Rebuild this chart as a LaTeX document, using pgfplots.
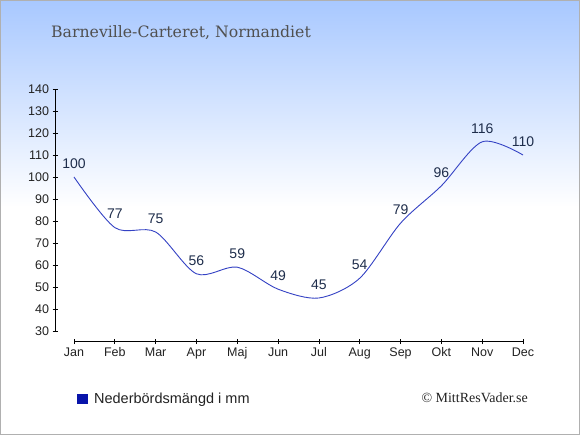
\documentclass[border=0pt]{standalone}
\usepackage{fontspec}
\setmainfont{Liberation Sans}
\newfontfamily\titlefont{DejaVu Serif}
\newfontfamily\copyfont{Liberation Serif}
\usepackage{pgfplots}
\pgfplotsset{compat=1.18}
\definecolor{topblue}{RGB}{168,200,255}
\definecolor{linecol}{RGB}{52,66,196}
\definecolor{labelcol}{RGB}{30,45,75}
\definecolor{legendblue}{RGB}{8,20,170}
\definecolor{textcol}{RGB}{34,34,34}
\definecolor{titlecol}{RGB}{80,80,80}
\definecolor{bordercol}{RGB}{176,176,176}
\begin{document}
\begin{tikzpicture}[x=1pt,y=1pt]
\path[use as bounding box] (0,0) rectangle (580,435);
\fill[white] (0,0) rectangle (580,435);
\shade[top color=topblue, bottom color=white] (0,228) rectangle (580,435);
\draw[bordercol, line width=1pt] (0.5,0.5) rectangle (579.5,434.5);
\node[anchor=base west, inner sep=0pt, text=titlecol, font=\titlefont\fontsize{15.7}{18}\selectfont] at (51,397.3) {Barneville-Carteret, Normandiet};
\node[anchor=base east, inner sep=0pt, text=textcol, font=\copyfont\fontsize{14}{16}\selectfont] at (528,32) {\textcopyright\ MittResVader.se};
% y axis and data
\begin{axis}[
  at={(55pt,104pt)}, anchor=south west,
  scale only axis, width=468pt, height=242pt,
  xmin=-0.4655, xmax=11, ymin=30, ymax=140,
  axis x line=none, axis y line*=left,
  ytick={30,40,...,140},
  tick align=center, major tick length=5pt,
  tick style={black, line width=0.8pt},
  axis line style={black, line width=0.8pt},
  /pgf/number format/assume math mode=true,
  tick label style={font=\fontsize{12.5}{14}\selectfont, text=textcol},
  clip=false,
  legend style={at={(rel axis cs:0.047,-0.279)}, anchor=west, draw=none, fill=none,
    font=\fontsize{14.5}{16}\selectfont, text=textcol, inner sep=0pt,
    /tikz/every odd column/.append style={column sep=5pt}},
  legend cell align=left,
]
\addplot[forget plot, smooth, color=linecol, line width=0.9pt,
  nodes near coords,
  nodes near coords style={font=\fontsize{14}{16}\selectfont, text=labelcol, anchor=base, yshift=8.7pt, inner sep=0pt}]
  coordinates {(0,100) (1,77) (2,75) (3,56) (4,59) (5,49) (6,45) (7,54) (8,79) (9,96) (10,116) (11,110)};
\addlegendimage{legend image code/.code={\fill[legendblue] (0pt,-4.75pt) rectangle (9.5pt,4.75pt);}}
\addlegendentry{Nederbördsmängd i mm}
\end{axis}
% x axis
\begin{axis}[
  at={(74pt,93.3pt)}, anchor=south west,
  scale only axis, width=449pt, height=20pt,
  xmin=0, xmax=11, ymin=0, ymax=1,
  axis y line=none, axis x line*=bottom,
  xtick={0,1,...,11},
  xticklabels={Jan,Feb,Mar,Apr,Maj,Jun,Jul,Aug,Sep,Okt,Nov,Dec},
  tick align=center, major tick length=5pt,
  tick style={black, line width=0.8pt},
  axis line style={black, line width=0.8pt},
  tick label style={font=\fontsize{12.5}{14}\selectfont, text=textcol},
]
\end{axis}
\end{tikzpicture}
\end{document}
